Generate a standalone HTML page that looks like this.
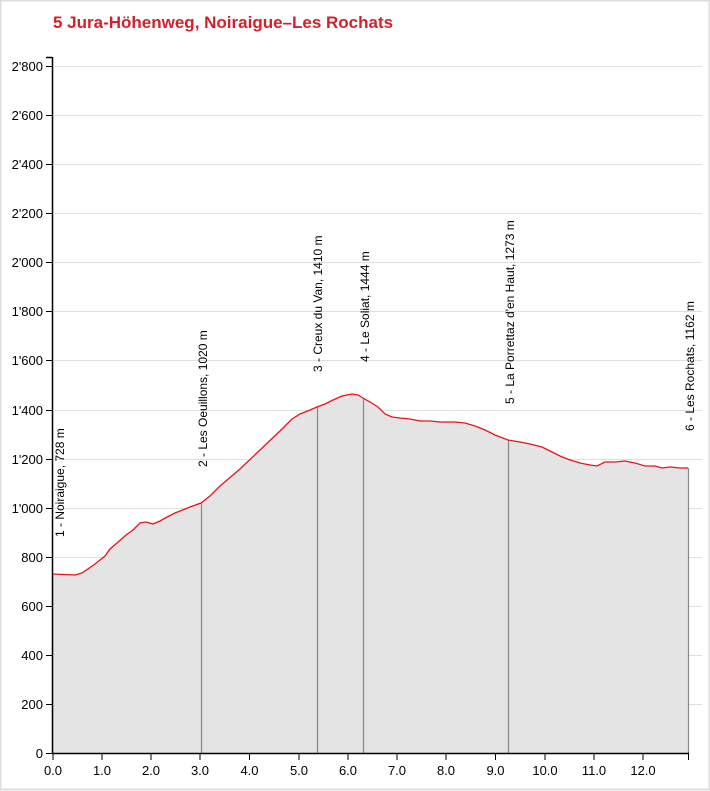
<!DOCTYPE html>
<html><head><meta charset="utf-8"><style>
html,body{margin:0;padding:0;background:#fff;}
svg{display:block;font-family:"Liberation Sans",Arial,sans-serif;}
</style></head><body>
<svg width="710" height="791" viewBox="0 0 710 791">
<rect x="0.5" y="0.5" width="709" height="789" fill="none" stroke="#ddd" stroke-width="2"/>
<text x="53" y="28" fill="#d51f2b" font-size="17" font-weight="bold">5 Jura-Höhenweg, Noiraigue–Les Rochats</text>
<g stroke="#e0e0e0" stroke-width="1">
<line x1="52" x2="702" y1="66.5" y2="66.5"/><line x1="52" x2="702" y1="115.5" y2="115.5"/>
<line x1="52" x2="702" y1="164.5" y2="164.5"/><line x1="52" x2="702" y1="213.5" y2="213.5"/>
<line x1="52" x2="702" y1="262.5" y2="262.5"/><line x1="52" x2="702" y1="311.5" y2="311.5"/>
<line x1="52" x2="702" y1="360.5" y2="360.5"/><line x1="52" x2="702" y1="410.5" y2="410.5"/>
<line x1="52" x2="702" y1="459.5" y2="459.5"/><line x1="52" x2="702" y1="508.5" y2="508.5"/>
<line x1="52" x2="702" y1="557.5" y2="557.5"/><line x1="52" x2="702" y1="606.5" y2="606.5"/>
<line x1="52" x2="702" y1="655.5" y2="655.5"/><line x1="52" x2="702" y1="704.5" y2="704.5"/>
</g>
<path d="M52,753 L52,574 L75,575 L82,573 L95,564 L105,556 L110,549 L117,543 L126,535 L133,530 L140,523 L146,522 L153,524 L160,521 L167,517 L175,513 L190,507 L201,503 L210,496 L220,486 L240,469 L260,450 L280,431 L292,419 L300,414 L310,410 L317,407 L325,404 L333,400 L342,396 L352,394 L358,395 L363,398 L370,402 L378,407 L385,414 L392,417 L400,418 L410,419 L420,421 L430,421 L440,422 L455,422 L465,423 L475,426 L485,430 L495,435 L508,440 L520,442 L530,444 L542,447 L550,451 L560,456 L570,460 L580,463 L590,465 L597,466 L605,462 L615,462 L625,461 L635,463 L645,466 L655,466 L662,468 L670,467 L680,468 L688,468 L688,753 Z" fill="#e4e4e4"/>
<g stroke="#888" stroke-width="1.2">
<line x1="52.5" x2="52.5" y1="574" y2="753"/>
<line x1="201.5" x2="201.5" y1="503" y2="753"/>
<line x1="317.5" x2="317.5" y1="407" y2="753"/>
<line x1="363.5" x2="363.5" y1="398" y2="753"/>
<line x1="508.5" x2="508.5" y1="440" y2="753"/>
<line x1="688.5" x2="688.5" y1="468" y2="753"/>
</g>
<path d="M52,574 L75,575 L82,573 L95,564 L105,556 L110,549 L117,543 L126,535 L133,530 L140,523 L146,522 L153,524 L160,521 L167,517 L175,513 L190,507 L201,503 L210,496 L220,486 L240,469 L260,450 L280,431 L292,419 L300,414 L310,410 L317,407 L325,404 L333,400 L342,396 L352,394 L358,395 L363,398 L370,402 L378,407 L385,414 L392,417 L400,418 L410,419 L420,421 L430,421 L440,422 L455,422 L465,423 L475,426 L485,430 L495,435 L508,440 L520,442 L530,444 L542,447 L550,451 L560,456 L570,460 L580,463 L590,465 L597,466 L605,462 L615,462 L625,461 L635,463 L645,466 L655,466 L662,468 L670,467 L680,468 L688,468" fill="none" stroke="#e8141b" stroke-width="1.3"/>
<g font-size="12" fill="#000">
<text transform="translate(64,537) rotate(-90)">1 - Noiraigue, 728 m</text>
<text transform="translate(207,467) rotate(-90)">2 - Les Oeuillons, 1020 m</text>
<text transform="translate(322,372) rotate(-90)">3 - Creux du Van, 1410 m</text>
<text transform="translate(369,362) rotate(-90)">4 - Le Soliat, 1444 m</text>
<text transform="translate(514,404) rotate(-90)">5 - La Porrettaz d'en Haut, 1273 m</text>
<text transform="translate(694,431) rotate(-90)">6 - Les Rochats, 1162 m</text>
</g>
<g stroke="#000" stroke-width="1.5">
<line x1="52.5" x2="52.5" y1="57" y2="754"/>
<line x1="46" x2="52" y1="57.5" y2="57.5"/>
<line x1="52" x2="689" y1="753.5" y2="753.5"/>
</g>
<g stroke="#000" stroke-width="1">
<line x1="46" x2="52" y1="66.5" y2="66.5"/><line x1="46" x2="52" y1="115.5" y2="115.5"/>
<line x1="46" x2="52" y1="164.5" y2="164.5"/><line x1="46" x2="52" y1="213.5" y2="213.5"/>
<line x1="46" x2="52" y1="262.5" y2="262.5"/><line x1="46" x2="52" y1="311.5" y2="311.5"/>
<line x1="46" x2="52" y1="360.5" y2="360.5"/><line x1="46" x2="52" y1="410.5" y2="410.5"/>
<line x1="46" x2="52" y1="459.5" y2="459.5"/><line x1="46" x2="52" y1="508.5" y2="508.5"/>
<line x1="46" x2="52" y1="557.5" y2="557.5"/><line x1="46" x2="52" y1="606.5" y2="606.5"/>
<line x1="46" x2="52" y1="655.5" y2="655.5"/><line x1="46" x2="52" y1="704.5" y2="704.5"/>
<line x1="46" x2="52" y1="753.5" y2="753.5"/>
<line x1="53" x2="53" y1="753" y2="760"/><line x1="102" x2="102" y1="753" y2="760"/>
<line x1="151" x2="151" y1="753" y2="760"/><line x1="200" x2="200" y1="753" y2="760"/>
<line x1="249.5" x2="249.5" y1="753" y2="760"/><line x1="299" x2="299" y1="753" y2="760"/>
<line x1="348" x2="348" y1="753" y2="760"/><line x1="397" x2="397" y1="753" y2="760"/>
<line x1="446" x2="446" y1="753" y2="760"/><line x1="495.5" x2="495.5" y1="753" y2="760"/>
<line x1="545" x2="545" y1="753" y2="760"/><line x1="594" x2="594" y1="753" y2="760"/>
<line x1="643" x2="643" y1="753" y2="760"/><line x1="688.5" x2="688.5" y1="753" y2="760"/>
</g>
<g font-size="13" fill="#000" text-anchor="end">
<text x="43" y="71">2'800</text><text x="43" y="120">2'600</text>
<text x="43" y="169">2'400</text><text x="43" y="218">2'200</text>
<text x="43" y="267">2'000</text><text x="43" y="316">1'800</text>
<text x="43" y="365">1'600</text><text x="43" y="415">1'400</text>
<text x="43" y="464">1'200</text><text x="43" y="513">1'000</text>
<text x="43" y="562">800</text><text x="43" y="611">600</text>
<text x="43" y="660">400</text><text x="43" y="709">200</text>
<text x="43" y="758">0</text>
</g>
<g font-size="13" fill="#000" text-anchor="middle">
<text x="53" y="775">0.0</text><text x="102" y="775">1.0</text>
<text x="151" y="775">2.0</text><text x="200" y="775">3.0</text>
<text x="249.5" y="775">4.0</text><text x="299" y="775">5.0</text>
<text x="348" y="775">6.0</text><text x="397" y="775">7.0</text>
<text x="446" y="775">8.0</text><text x="495.5" y="775">9.0</text>
<text x="545" y="775">10.0</text><text x="594" y="775">11.0</text>
<text x="643" y="775">12.0</text>
</g>
</svg>
</body></html>
